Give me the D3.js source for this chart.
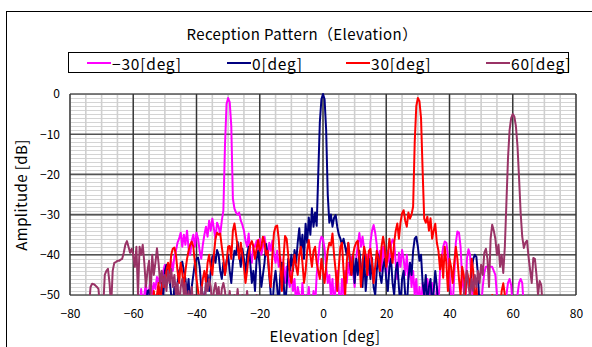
<!DOCTYPE html>
<html><head><meta charset="utf-8">
<script src="https://cdn.jsdelivr.net/npm/d3@7/dist/d3.min.js"></script>
<style>body{margin:0;background:#fff}svg{display:block}</style>
</head><body><svg id="c" width="592" height="347"></svg>
<script>
// ---------- data ----------
const angles = d3.range(-80, 80.25, 0.5); // elevation [deg], 0.5 deg step
const xTicks = [-80, -60, -40, -20, 0, 20, 40, 60, 80];
const yTicks = [0, -10, -20, -30, -40, -50];
const seriesNames = ["\u221230[deg]", "0[deg]", "30[deg]", "60[deg]"];

const valsM30 = [
null,null,null,null,null,null,null,null,null,null,null,null,null,null,null,null,null,null,null,null,
null,null,null,null,null,null,null,null,null,null,null,null,null,null,null,null,null,null,null,null,
null,null,-53,-50,-53,-48.5,-53,-50,-47,-53,-49,-46,-50,-47,-48.5,-45.5,-47,-45,-47.5,-44,
-42.5,-45,-43,-44.5,-41.5,-44,-40.5,-39,-37,-36,-34.5,-38,-35,-37.5,-34,-38.5,-40,-36.5,-35,-38,
-34.5,-36,-39,-41,-37.5,-35,-33,-35.5,-31.5,-34,-31,-33.5,-36,-32,-33,-35,-31.5,-29,-13,-2.5,
-1,-2,-8,-26,-28.5,-29.5,-30,-29.5,-31.5,-32.5,-34,-36.5,-38,-34.7,-40,-42,-37.5,-38,-36.5,-39,
-36,-40,-38,-35.5,-38,-40.5,-37,-39,-36.5,-40,-42,-39,-43,-40.5,-45,-42,-47,-43,-46,-48,
-44,-49,-46,-53,-48,-50,-53,-47,-53,-50,-53,-48,-53,-53,-49,-53,-45,-41,-37,-35.5,
-36,-38.5,-43,-47,-45,-50,-46,-53,-48,-44,-49,-53,-46,-50,-44,-47,-42,-45,-40.5,-44,
-48,-41,-37.5,-34.6,-38,-35.5,-38.5,-43,-40,-45,-37,-34,-32.6,-34.5,-37.5,-42,-39,-44,-38,-41,
-45,-39,-42,-37.5,-36.2,-37,-42,-46,-39.5,-43,-38.8,-41,-45,-40,-46,-42,-48,-44,-50,-46,
-53,-48,-53,-47,-50,-53,-46,-49,-53,-47,-51,-53,-48,-53,-44,-41,-38,-36.7,-37,-40,
-45,-50,-53,-45,-37,-34.2,-34.5,-38,-46,-49,-53,-41,-38.6,-40,-47,-53,-53,-50,-53,-53,
-53,-48,-44.5,-43,-43,-42.8,-43,-43,-44,-45,-50,-53,-53,-53,-53,-53,-50,-47,-46,-47.5,
-53,-53,-53,-50,-47,-46,-47,-53,null,null,null,null,null,null,null,null,null,null,null,null,
null,null,null,null,null,null,null,null,null,null,null,null,null,null,null,null,null,null,null,null,
null];

const vals0 = [
null,null,null,null,null,null,null,null,null,null,null,null,null,null,null,null,null,null,null,null,
null,null,null,null,null,null,null,null,null,null,null,null,null,null,null,null,null,null,null,null,
null,null,null,null,null,null,null,null,-53,-49,-48.8,-53,-53,-50,-53,-53,-48,-53,-47,-50,
-44,-42.5,-45,-46.3,-50,-53,-48,-53,-47,-44,-43,-41.7,-44,-46,-50,-46,-53,-48,-45,-42,
-41,-40.7,-43,-48,-50,-53,-47,-45,-49,-44,-40.5,-40,-42,-38.8,-40,-44,-46,-42,-45,-41.5,
-40,-44,-47,-42,-39,-40,-36.8,-40,-43,-38.5,-41,-45,-40,-38,-42,-47,-44,-49,-41,-39,
-43,-48,-45,-42,-37.3,-40,-45,-50,-53,-47,-44,-48,-53,-45,-42,-46,-53,-48,-41,-44,
-40,-44,-38.8,-42,-37,-33.4,-39,-35,-41,-32.3,-37,-30.7,-35,-28.4,-33,-29.5,-32.8,-20,-7,-1.3,
0,-1.3,-9,-25,-32,-30,-33,-30.8,-30.1,-33,-35,-36,-37.5,-36,-38,-40,-37.1,-42,-45,-40,
-47,-41,-45,-39,-43,-48,-40,-49,-44,-41,-46,-40.8,-48,-50,-44,-40,-45,-47,-43,-41,
-46,-49,-43,-41,-47,-50,-44,-42,-48,-53,-46,-44,-50,-53,-46,-42,-45,-39,-36,-35.5,
-38,-41.5,-40,-47,-50,-45,-53,-48,-46,-53,-49,-44,-48,-53,-53,-53,-53,-53,-53,-53,
-53,-53,-53,-53,-53,-53,-53,-53,-53,-53,-53,-53,-53,-49,-44,-41,-40,-40.5,-45,-53,
-53,null,null,null,null,null,null,null,null,null,null,null,null,null,null,null,null,null,null,null,
null,null,null,null,null,null,null,null,null,null,null,null,null,null,null,null,null,null,null,null,
null,null,null,null,null,null,null,null,null,null,null,null,null,null,null,null,null,null,null,null,
null];

const vals30 = [
null,null,null,null,null,null,null,null,null,null,null,null,null,null,null,null,null,null,null,null,
null,null,null,null,null,null,null,null,null,null,null,null,null,null,null,null,null,null,null,null,
null,null,null,null,null,null,null,null,null,null,null,null,-53,-49,-53,-50,-47,-53,-48,-45.5,
-48,-44,-42,-44.5,-40,-38.5,-38.2,-40,-44,-47,-42,-44.5,-48,-44,-41,-39,-37.5,-36.7,-38,-42,
-46,-49,-53,-49,-46,-44,-47,-42,-40,-43,-45,-40,-36,-34.5,-35,-34.7,-38,-41,-45,-42,
-38,-37.8,-41,-34,-32.2,-35,-38,-41,-37,-40,-43,-47,-44,-40,-37.5,-36.6,-38,-41,-38.5,-36.3,
-39,-38,-35.5,-37,-40,-39,-45,-48,-40,-34.5,-33,-32.7,-36,-42,-49,-41,-35.3,-36,-40,-45,
-47,-43,-40,-43,-45,-40,-38,-42,-47,-44,-39,-36.3,-40,-43,-39,-38,-42,-44,-46,-41,
-44,-47,-43,-39,-37,-37.7,-34.7,-40,-44,-49,-43,-38,-37,-44,-50,-42,-37,-41,-45,-40,
-38,-37,-36.5,-41,-48,-42,-38,-40,-45,-39,-38.5,-42,-47,-43,-39,-41,-44,-38,-35.5,-38,
-43,-40,-36,-39,-42,-37,-34,-32.2,-36,-32,-29.7,-28.9,-31.5,-33,-29.5,-31,-30,-28,-12,-3,
-1,-1.8,-6,-19,-31,-32,-30.5,-34,-30.9,-36,-34,-32.3,-37,-39,-43.6,-40,-45.7,-38,-42,-49,
-41,-43,-47,-42,-38,-41,-46,-50,-43,-45,-50,-44,-46,-48,-41,-44,-53,-48,-53,-53,
-53,-53,-53,-53,-53,-53,-53,-50,-53,-53,-53,-53,-53,-49,-47.1,-50,-53,null,null,null,
null,null,null,null,null,null,null,null,null,null,null,null,null,null,null,null,null,null,null,null,
null,null,null,null,null,null,null,null,null,null,null,null,null,null,null,null,null,null,null,null,
null];

const vals60 = [
null,null,null,null,null,null,null,null,null,null,null,null,-53,-48,-47.2,-47.3,-47.6,-48,-48.5,-53,
-53,-53,-45,-44,-43.5,-47,-53,-44,-42,-41.8,-41.5,-41.5,-41.2,-41,-39.5,-37.5,-36.6,-38,-39.5,-38.5,
-40,-43,-38,-50,-38,-40,-37.5,-42,-48,-44,-41.5,-50,-40,-45,-42,-38.4,-42,-47,-44,-48,
-45,-49,-44,-47,-43.5,-48,-45,-50,-47,-53,-48,-46,-50,-47,-53,-49,-53,-48,-53,-50,
-53,-50,-53,-48,-50,-53,-47,-49,-46,-48,-53,-49,-47,-50,-48,-53,-48.5,-47,-49,-53,
-53,-49,-53,-53,-50,-53,-48.5,-53,-53,-50,-53,-53,-49,-53,-53,-51,-53,-53,-50,-53,
-53,-53,-51,-53,-53,-53,-53,-53,-52,-53,-53,-53,-53,-53,-51,-53,-53,-53,-53,-53,
-53,-53,-53,-53,-52,-53,-53,-53,-53,-53,-53,-53,-51,-53,-53,-53,-53,-53,-53,-53,
-53,-53,-53,-53,-53,-53,-53,-52,-53,-53,-53,-53,-53,-53,-53,-53,-53,-51,-53,-53,
-53,-53,-53,-53,-53,-53,-53,-53,-53,-53,-52,-53,-53,-53,-53,-53,-53,-53,-53,-53,
-53,-53,-53,-53,-53,-53,-51,-53,-53,-53,-53,-53,-53,-53,-53,-53,-53,-53,-53,-53,
-53,-53,-53,-53,-53,-53,-53,-53,-53,-52,-53,-53,-53,-53,-53,-53,-53,-53,-53,-53,
-53,-53,-53,-53,-53,-53,-53,-53,-53,-50,-47,-44,-48,-50,-46,-49,-45,-48,-44,-47,
-42.5,-45,-39.5,-38.5,-41,-48,-36,-32.5,-34,-36,-40,-37.5,-43,-40,-44.5,-38,-27,-16,-9,-6,
-5,-5.6,-8,-13,-21,-29.6,-35.5,-38.3,-37,-36.5,-40.5,-43.8,-47,-40.8,-41,-45,-50,-46.5,-47.5,-53,
null,null,null,null,null,null,null,null,null,null,null,null,null,null,null,null,null,null,null,null,
null];

const seriesValues = [valsM30, vals0, vals30, vals60];
const seriesColors = ["#ff00ff", "#000080", "#ff0000", "#993366"];

// ---------- layout ----------
const svg = d3.select("#c");
const FONT = "'Noto Sans CJK JP', 'Noto Sans', sans-serif";
const plot = {left: 70, right: 576, top: 94, bottom: 295};
const x = d3.scaleLinear().domain([-80, 80]).range([plot.left, plot.right]);
const y = d3.scaleLinear().domain([-50, 0]).range([plot.bottom, plot.top]);

// outer chart frame
svg.append("rect").attr("x", 6.5).attr("y", 11.5).attr("width", 620).attr("height", 400)
  .attr("fill", "#fff").attr("stroke", "#000").attr("stroke-width", 1);

// minor grid
const g = svg.append("g");
g.selectAll(".hm").data(d3.range(-50, 1, 1)).join("line")
  .attr("x1", plot.left).attr("x2", plot.right)
  .attr("y1", d => Math.round(y(d)) + 0.5).attr("y2", d => Math.round(y(d)) + 0.5)
  .attr("stroke", "#d4d4d4").attr("stroke-width", 1);
g.selectAll(".vm").data(d3.range(-80, 81, 5)).join("line")
  .attr("x1", d => x(d)).attr("x2", d => x(d))
  .attr("y1", plot.top).attr("y2", plot.bottom)
  .attr("stroke", "#cfcfcf").attr("stroke-width", 1.6);
// major grid
g.selectAll(".hM").data(yTicks).join("line")
  .attr("x1", plot.left).attr("x2", plot.right)
  .attr("y1", d => y(d)).attr("y2", d => y(d))
  .attr("stroke", "#555").attr("stroke-width", 1.6);
g.selectAll(".vM").data(xTicks).join("line")
  .attr("x1", d => x(d)).attr("x2", d => x(d))
  .attr("y1", plot.top).attr("y2", plot.bottom)
  .attr("stroke", "#333").attr("stroke-width", 1.4);

// clip
svg.append("clipPath").attr("id", "clip").append("rect")
  .attr("x", plot.left).attr("y", plot.top - 3)
  .attr("width", plot.right - plot.left).attr("height", plot.bottom - plot.top + 3);

const line = d3.line()
  .defined(d => d[1] !== null)
  .x(d => x(d[0])).y(d => y(d[1]));

const lines = svg.append("g").attr("clip-path", "url(#clip)");
seriesValues.forEach((vals, i) => {
  const pts = angles.map((a, k) => [a, vals[k] === undefined ? null : vals[k]]);
  lines.append("path").datum(pts)
    .attr("fill", "none").attr("stroke", seriesColors[i])
    .attr("stroke-width", 2).attr("stroke-linejoin", "round")
    .attr("d", line);
});

// axes
const xAxis = svg.append("g").attr("transform", `translate(0,${plot.bottom})`)
  .call(d3.axisBottom(x).tickValues(xTicks).tickSize(0).tickPadding(14));
const yAxis = svg.append("g").attr("transform", `translate(${plot.left},0)`)
  .call(d3.axisLeft(y).tickValues(yTicks).tickSize(0).tickPadding(10));
[xAxis, yAxis].forEach(a => {
  a.select(".domain").remove();
  a.selectAll("text").attr("font-family", FONT).attr("font-size", 12).attr("fill", "#000");
});

// titles
svg.append("text").attr("x", 302).attr("y", 40).attr("text-anchor", "middle")
  .attr("font-family", FONT).attr("font-size", 15).attr("letter-spacing", 0.4)
  .text("Reception Pattern\uFF08Elevation\uFF09");
svg.append("text").attr("x", 325).attr("y", 342).attr("text-anchor", "middle")
  .attr("font-family", FONT).attr("font-size", 15).attr("letter-spacing", 0.4)
  .text("Elevation [deg]");
svg.append("text").attr("transform", "translate(27,195) rotate(-90)").attr("text-anchor", "middle")
  .attr("font-family", FONT).attr("font-size", 15).attr("letter-spacing", 0.4)
  .text("Amplitude [dB]");

// legend
const leg = svg.append("g");
leg.append("rect").attr("x", 68.5).attr("y", 52.5).attr("width", 500).attr("height", 20)
  .attr("fill", "#fff").attr("stroke", "#000").attr("stroke-width", 1);
const legX = [87, 227, 346, 486];
seriesNames.forEach((n, i) => {
  leg.append("line").attr("x1", legX[i]).attr("x2", legX[i] + 24)
    .attr("y1", 63).attr("y2", 63).attr("stroke", seriesColors[i]).attr("stroke-width", 2);
  leg.append("text").attr("x", legX[i] + 25).attr("y", 70)
    .attr("font-family", FONT).attr("font-size", 15.5).attr("letter-spacing", 0.8).text(n);
});
</script></body></html>
